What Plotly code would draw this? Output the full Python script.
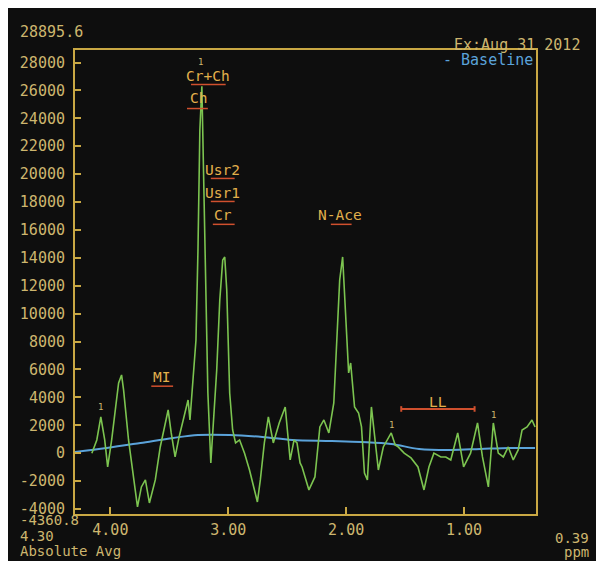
import plotly.graph_objects as go

# ---- data ----
ppm = [4.157, 4.115, 4.081, 4.048, 4.023, 3.989, 3.955, 3.930, 3.905, 3.888,
       3.846, 3.804, 3.770, 3.737, 3.703, 3.669, 3.619, 3.577, 3.535, 3.510,
       3.484, 3.451, 3.417, 3.383, 3.341, 3.325, 3.299, 3.274, 3.257, 3.241,
       3.224, 3.207, 3.190, 3.173, 3.148, 3.123, 3.098, 3.072, 3.047, 3.030,
       3.013, 2.988, 2.963, 2.938, 2.904, 2.862, 2.820, 2.778, 2.753, 2.728,
       2.694, 2.660, 2.618, 2.568, 2.517, 2.475, 2.442, 2.417, 2.391, 2.374,
       2.341, 2.316, 2.265, 2.223, 2.189, 2.147, 2.105, 2.080, 2.055, 2.030,
       2.004, 1.979, 1.962, 1.929, 1.895, 1.870, 1.845, 1.820, 1.786, 1.752,
       1.727, 1.685, 1.651, 1.618, 1.584, 1.559, 1.508, 1.450, 1.391, 1.340,
       1.298, 1.256, 1.197, 1.155, 1.113, 1.054, 1.004, 0.945, 0.886, 0.844,
       0.794, 0.752, 0.710, 0.667, 0.625, 0.583, 0.541, 0.508, 0.466, 0.424,
       0.398]
intensity = [0, 946, 2594, 946, -989, 946, 3311, 5031, 5605, 4530,
             946, -1921, -3856, -2422, -1921, -3569, -1921, 444, 2164, 3096,
             1448, -272, 1161, 2379, 3813, 2379, 5246, 8113, 14563, 23164,
             26300, 19580, 10980, 4315, -702, 2379, 5963, 10980, 13847, 14062,
             11697, 4315, 1663, 731, 946, 0, -1204, -2637, -3497, -1921,
             731, 2594, 731, 2164, 3311, -487, 946, 731, -702, -989,
             -1921, -2637, -1704, 1878, 2379, 1448, 3598, 8113, 12413, 14062,
             9331, 5748, 6465, 3311, 2881, 1878, -1419, -1921, 3311, 444,
             -1204, 444, 946, 1448, 592, 444, 0, -344, -989, -2637,
             -989, 0, -272, -272, -487, 1448, -989, 0, 2164, -272,
             -2422, 2164, 0, -272, 444, -487, 229, 1663, 1878, 2379,
             1878]

baseline_ppm = [4.300, 4.031, 3.745, 3.468, 3.257, 2.988, 2.711, 2.458,
                2.122, 1.870, 1.618, 1.382, 1.113, 0.861, 0.609, 0.398]
baseline_val = [86, 373, 731, 1089, 1304, 1304, 1161, 946,
                874, 803, 660, 301, 229, 301, 373, 373]

peak_names = ["Cr+Ch", "Ch", "Usr2", "Usr1", "Cr", "N-Ace", "MI"]
peak_text_ppm = [3.173, 3.249, 3.047, 3.047, 3.047, 2.055, 3.568]
peak_text_val = [27000, 25420, 20260, 18620, 17040, 17040, 5440]
peak_lo = [3.316, 3.350, 3.148, 3.148, 3.131, 2.130, 3.653]
peak_hi = [3.022, 3.173, 2.946, 2.946, 2.946, 1.954, 3.468]
peak_line_val = [26420, 24700, 19690, 18040, 16400, 16400, 4800]

range_name = "LL"
range_lo, range_hi, range_val, range_text_val = 1.533, 0.911, 3168, 3670

marker_ppm = [4.081, 3.232, 1.618, 0.752]
marker_val = [3300, 28050, 2050, 2750]

y_min, y_max = -4360.8, 28895.6
x_left, x_right = 4.30, 0.39
x_ticks = [4, 3, 2, 1]
x_ticktext = ["4.00", "3.00", "2.00", "1.00"]
y_ticks = list(range(-4000, 28001, 2000))
y_ticktext = [str(v) for v in y_ticks]

# ---- styles ----
BG = "#0e0e0e"
GOLD = "#c9a844"
TXT = "#cdb66e"
LBL = "#e2b04c"
RED = "#d0502e"
GREEN = "#7cc450"
BLUE = "#5ba3da"
MONO = "DejaVu Sans Mono, Liberation Mono, monospace"

fig = go.Figure()
fig.add_trace(go.Scatter(x=baseline_ppm, y=baseline_val, mode="lines",
                         line=dict(color=BLUE, width=2, shape="spline"),
                         hoverinfo="skip", showlegend=False))
fig.add_trace(go.Scatter(x=ppm, y=intensity, mode="lines",
                         line=dict(color=GREEN, width=1.6),
                         showlegend=False))

shapes = []
annotations = []
for name, tx, ty, lo, hi, lv in zip(peak_names, peak_text_ppm, peak_text_val,
                                     peak_lo, peak_hi, peak_line_val):
    shapes.append(dict(type="line", xref="x", yref="y", x0=lo, x1=hi, y0=lv, y1=lv,
                       line=dict(color=RED, width=1.5)))
    annotations.append(dict(x=tx, y=ty, xref="x", yref="y", text=name, showarrow=False,
                            font=dict(family=MONO, size=14.5, color=LBL)))
# LL range bar with end caps
shapes.append(dict(type="line", xref="x", yref="y", x0=range_lo, x1=range_hi,
                   y0=range_val, y1=range_val, line=dict(color=RED, width=2)))
for xe in (range_lo, range_hi):
    shapes.append(dict(type="line", xref="x", yref="y", x0=xe, x1=xe,
                       y0=range_val - 200, y1=range_val + 200, line=dict(color=RED, width=2)))
annotations.append(dict(x=(range_lo + range_hi) / 2, y=range_text_val, xref="x", yref="y",
                        text=range_name, showarrow=False,
                        font=dict(family=MONO, size=14.5, color=LBL)))
for mx, my in zip(marker_ppm, marker_val):
    annotations.append(dict(x=mx, y=my, xref="x", yref="y", text="1", showarrow=False,
                            font=dict(family=MONO, size=9, color=TXT)))


def ptxt(text, x, y, xanchor="left", color=TXT, size=15):
    annotations.append(dict(x=x, y=y, xref="paper", yref="paper", text=text,
                            showarrow=False, xanchor=xanchor, yanchor="middle",
                            font=dict(family=MONO, size=size, color=color)))


ptxt("28895.6", -0.124, 1.0388)
ptxt("Ex:Aug 31 2012", 0.8172, 1.0108)
ptxt("- Baseline", 0.7935, 0.9784, color=BLUE)
ptxt("-4360.8", -0.1246, -0.0129, size=14)
ptxt("4.30", -0.1226, -0.0474, size=14)
ptxt("Absolute Avg", -0.1226, -0.0797, size=14)
ptxt("0.39", 1.1183, -0.0517, xanchor="right", size=14)
ptxt("ppm", 1.1183, -0.0819, xanchor="right", size=14)

axis_common = dict(showgrid=False, zeroline=False, showline=True, linecolor=GOLD,
                   linewidth=2, mirror=True, ticks="inside", tickcolor=GOLD,
                   tickwidth=1.5, tickfont=dict(family=MONO, size=15, color=TXT))
fig.update_layout(
    width=596, height=553,
    margin=dict(l=63, r=68, t=42, b=47),
    paper_bgcolor=BG, plot_bgcolor=BG,
    xaxis=dict(range=[x_left, x_right], tickvals=x_ticks, ticktext=x_ticktext,
               ticklen=7, ticklabelstandoff=1, **axis_common),
    yaxis=dict(range=[y_min, y_max], tickvals=y_ticks, ticktext=y_ticktext,
               ticklen=6, ticklabelstandoff=5, **axis_common),
    shapes=shapes, annotations=annotations,
)
fig.write_html("out.html")
